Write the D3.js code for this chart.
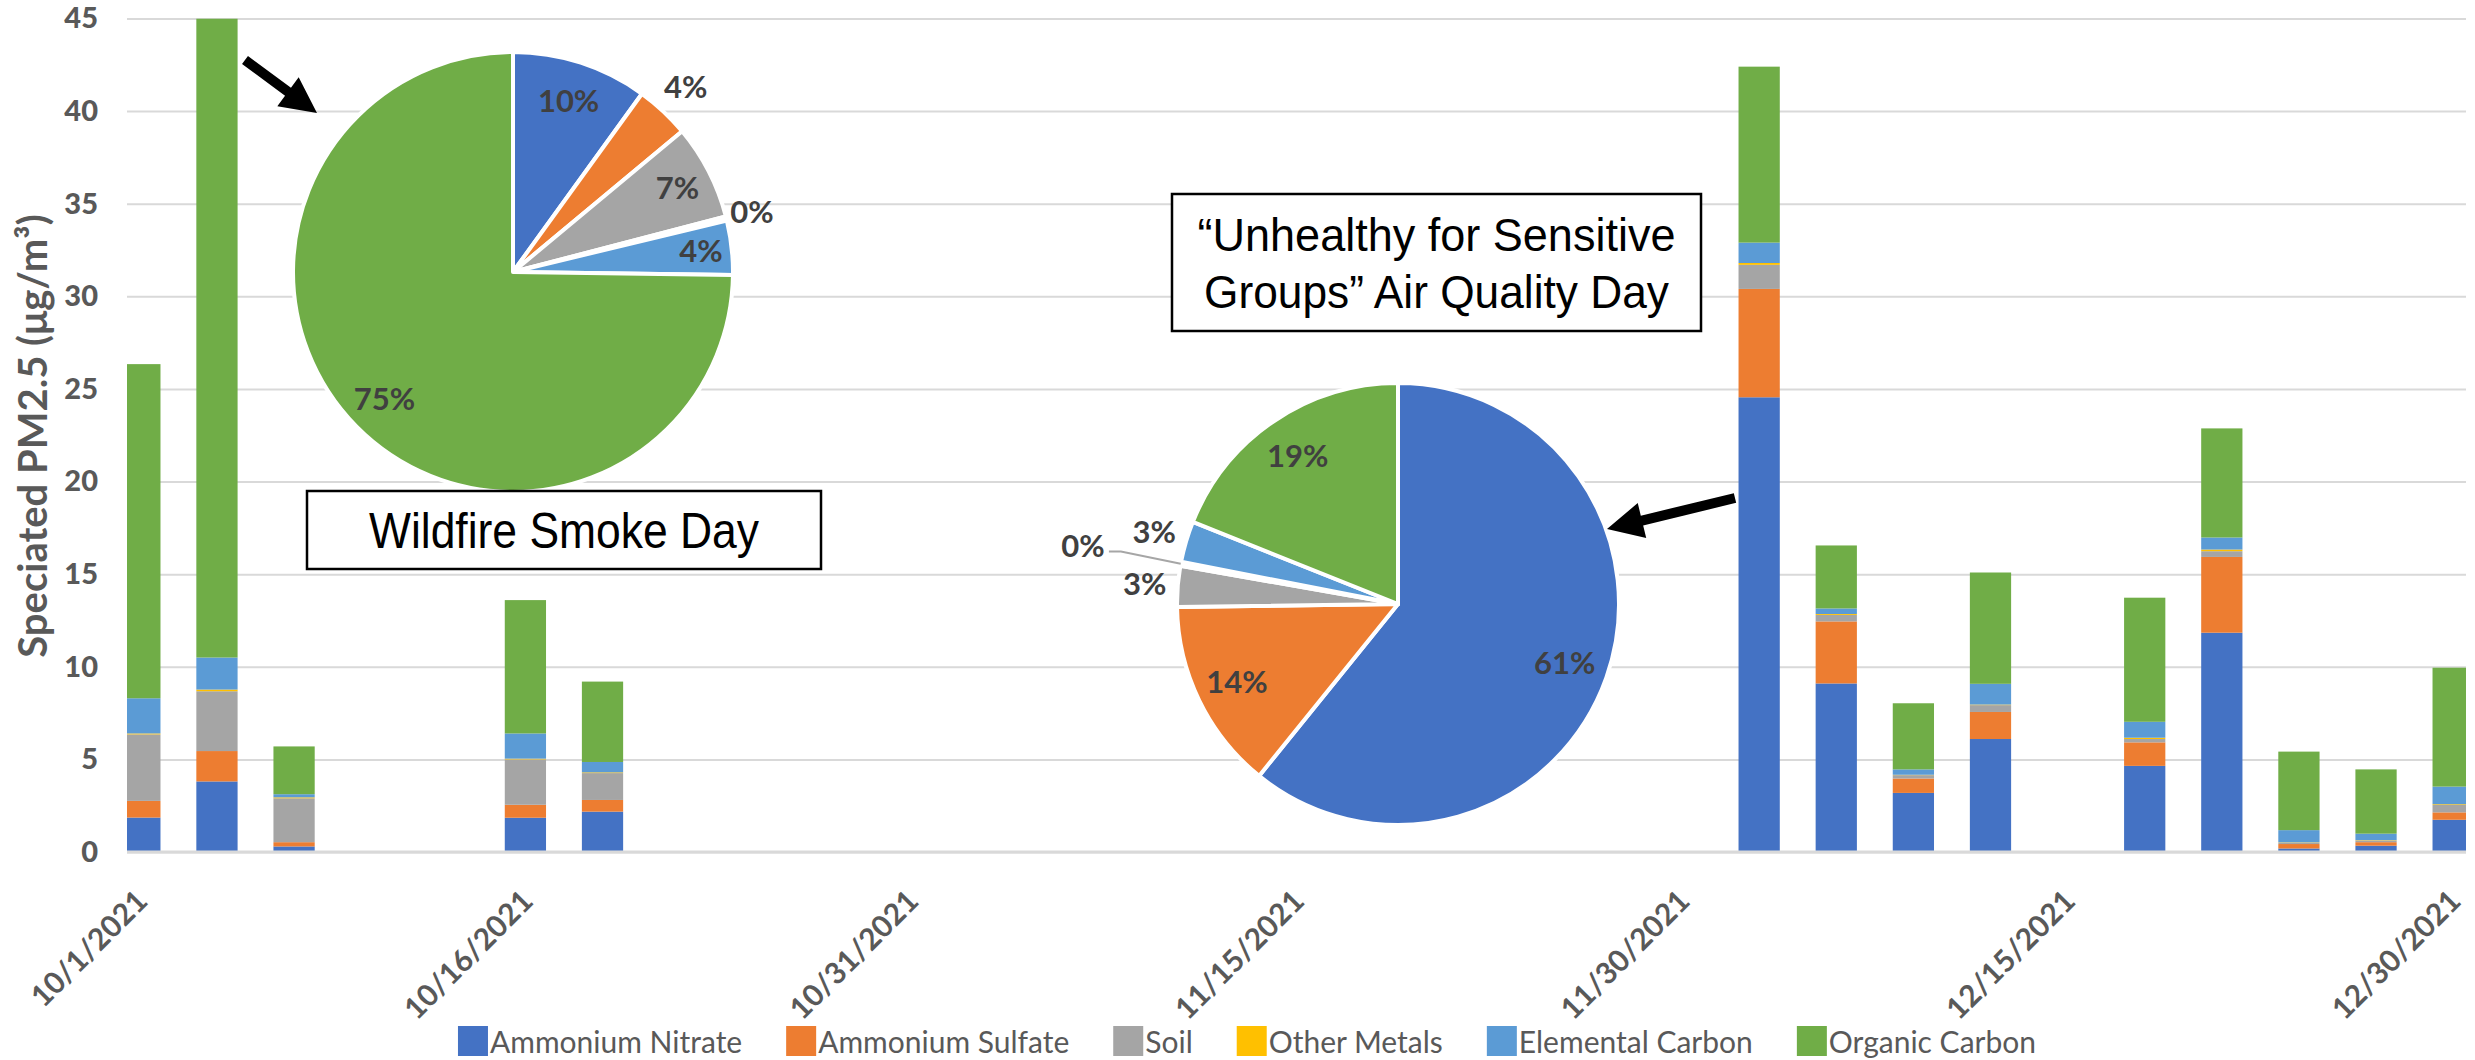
<!DOCTYPE html>
<html>
<head>
<meta charset="utf-8">
<script src="https://cdn.jsdelivr.net/npm/d3@7"></script>
<style>
  body { margin: 0; background: #fff; }
  svg { display: block; }
</style>
</head>
<body>
<svg id="chart" width="2475" height="1060"></svg>
<script>
// sample days (every third day, with gaps)
const dates = ["2021-10-01", "2021-10-04", "2021-10-07", "2021-10-16", "2021-10-19",
    "2021-12-03", "2021-12-06", "2021-12-09", "2021-12-12",
    "2021-12-18", "2021-12-21", "2021-12-24", "2021-12-27", "2021-12-30"];

const series = ["Ammonium Nitrate", "Ammonium Sulfate", "Soil", "Other Metals", "Elemental Carbon", "Organic Carbon"];
const colors = ["#4472c4", "#ed7d31", "#a5a5a5", "#ffc000", "#5b9bd5", "#70ad47"];

const ammoniumNitrate = [1.86, 3.81, 0.30, 1.85, 2.18, 24.55, 9.10, 3.19, 6.10, 4.65, 11.84, 0.19, 0.34, 1.74];
const ammoniumSulfate = [0.90, 1.64, 0.23, 0.70, 0.63, 5.85, 3.35, 0.78, 1.46, 1.27, 4.09, 0.24, 0.19, 0.40];
const soil = [3.59, 3.23, 2.37, 2.45, 1.45, 1.30, 0.35, 0.18, 0.37, 0.18, 0.31, 0.07, 0.09, 0.40];
const otherMetals = [0.05, 0.09, 0.05, 0.04, 0.04, 0.10, 0.05, 0.02, 0.03, 0.07, 0.09, 0.02, 0.02, 0.04];
const elementalCarbon = [1.90, 1.73, 0.17, 1.36, 0.56, 1.10, 0.30, 0.29, 1.12, 0.86, 0.65, 0.66, 0.35, 0.95];
const organicCarbon = [18.04, 34.50, 2.58, 7.20, 4.34, 9.50, 3.40, 3.57, 6.01, 6.70, 5.89, 4.24, 3.47, 6.42];

const yTicks = [0, 5, 10, 15, 20, 25, 30, 35, 40, 45];
const xTickDates = ["2021-10-01", "2021-10-16", "2021-10-31", "2021-11-15", "2021-11-30", "2021-12-15", "2021-12-30"];

// pie shares in percent, same order as series
const smokePie = [10, 4, 7, 0.3, 4, 75];
const usgPie = [61, 14, 3, 0.3, 3, 19];

const values = [ammoniumNitrate, ammoniumSulfate, soil, otherMetals, elementalCarbon, organicCarbon];
const parse = d3.utcParse("%Y-%m-%d");
const fmt = d3.utcFormat("%-m/%-d/%Y");

const rows = dates.map((d, i) => {
    const row = { date: parse(d) };
    series.forEach((s, k) => row[s] = values[k][i]);
    return row;
});

const svg = d3.select("#chart");
const plotLeft = 127, plotRight = 2466, plotTop = 18.5, plotBottom = 852;

const x = d3.scaleUtc()
    .domain([parse("2021-10-01"), parse("2021-12-31")])
    .range([plotLeft, plotRight]);
const dayW = x(parse("2021-10-02")) - x(parse("2021-10-01"));
const barW = dayW * 3 * 0.535;

const y = d3.scaleLinear().domain([0, 45]).range([plotBottom, plotTop]);
const color = d3.scaleOrdinal().domain(series).range(colors);

// gridlines
svg.append("g")
    .attr("transform", `translate(${plotLeft},0)`)
    .call(d3.axisLeft(y).tickValues(yTicks).tickSize(-(plotRight - plotLeft)).tickFormat(""))
    .call(g => g.select(".domain").remove())
    .call(g => g.selectAll("line").attr("stroke", "#d9d9d9").attr("stroke-width", 2));

// y tick labels
svg.append("g")
    .attr("transform", `translate(98,0)`)
    .call(d3.axisLeft(y).tickValues(yTicks).tickSize(0).tickPadding(0))
    .call(g => g.select(".domain").remove())
    .call(g => g.selectAll("text")
        .attr("fill", "#595959")
        .style("font-family", "Lato, 'Open Sans', sans-serif")
        .style("font-weight", "900")
        .style("font-size", "29px"));

svg.append("text")
    .attr("transform", `translate(47,436) rotate(-90)`)
    .attr("text-anchor", "middle")
    .attr("fill", "#595959")
    .style("font-family", "Lato, sans-serif")
    .style("font-weight", "bold")
    .style("font-size", "40px")
    .text("Speciated PM2.5 (μg/m³)");

// stacked bars
svg.append("clipPath").attr("id", "plot")
    .append("rect").attr("x", plotLeft).attr("y", plotTop)
    .attr("width", plotRight - plotLeft).attr("height", plotBottom - plotTop + 4);

const stacked = d3.stack().keys(series)(rows);

svg.append("g")
    .attr("clip-path", "url(#plot)")
    .selectAll("g")
    .data(stacked)
    .join("g")
    .attr("fill", d => color(d.key))
    .selectAll("rect")
    .data(d => d)
    .join("rect")
    .attr("x", d => x(d.data.date) + dayW / 2 - barW / 2)
    .attr("width", barW)
    .attr("y", d => y(d[1]))
    .attr("height", d => y(d[0]) - y(d[1]));

// baseline
svg.append("line")
    .attr("x1", plotLeft).attr("x2", plotRight)
    .attr("y1", y(0)).attr("y2", y(0))
    .attr("stroke", "#d9d9d9").attr("stroke-width", 3);

// x labels
svg.append("g")
    .attr("transform", `translate(0,886)`)
    .call(d3.axisBottom(x)
        .tickValues(xTickDates.map(d => d3.utcHour.offset(parse(d), 12)))
        .tickSize(0)
        .tickFormat(d => fmt(d)))
    .call(g => g.select(".domain").remove())
    .call(g => g.selectAll("text")
        .attr("x", 0).attr("y", 0).attr("dy", null)
        .attr("transform", "translate(-8,0) rotate(-45)")
        .attr("text-anchor", "end")
        .attr("dominant-baseline", "hanging")
        .attr("fill", "#595959")
        .style("font-family", "Lato, sans-serif")
        .style("font-weight", "bold")
        .style("font-size", "30px"));

// legend
const legend = svg.append("g").attr("transform", "translate(0,1026)");
const items = legend.selectAll("g").data(series).join("g");
items.append("rect").attr("width", 30).attr("height", 30).attr("fill", d => color(d));
items.append("text")
    .attr("x", 32).attr("y", 27)
    .attr("fill", "#595959")
    .style("font-family", "Lato, sans-serif")
    .style("font-size", "30px")
    .text(d => d);
let lx = 0;
const offsets = [];
items.each(function () {
    offsets.push(lx);
    lx += 32 + this.querySelector("text").getComputedTextLength() + 44;
});
const legendStart = 1247 - (lx - 44) / 2;
items.attr("transform", (d, i) => `translate(${legendStart + offsets[i]},0)`);

// pies
function drawPie(data, cx, cy, r, labelRadius, leaderIndex) {
    const total = d3.sum(data);
    const arcs = d3.pie().sort(null).value(d => d)(data);
    const g = svg.append("g").attr("transform", `translate(${cx},${cy})`);
    g.selectAll("path")
        .data(arcs)
        .join("path")
        .attr("d", d3.arc().innerRadius(0).outerRadius(r))
        .attr("fill", (d, i) => colors[i])
        .attr("stroke", "#fff")
        .attr("stroke-width", 4)
        .attr("stroke-linejoin", "round");
    g.selectAll("text")
        .data(arcs)
        .join("text")
        .attr("transform", (d, i) => {
            const lr = r * labelRadius[i];
            return `translate(${d3.arc().innerRadius(lr).outerRadius(lr).centroid(d)})`;
        })
        .attr("text-anchor", "middle")
        .attr("dy", "0.36em")
        .attr("fill", "#404040")
        .style("font-family", "Lato, sans-serif")
        .style("font-weight", "bold")
        .style("font-size", "31px")
        .text(d => d3.format(".0%")(d.value / total));
    if (leaderIndex != null) {
        const d = arcs[leaderIndex];
        const p0 = d3.arc().innerRadius(r).outerRadius(r).centroid(d);
        const lr = r * labelRadius[leaderIndex];
        const p1 = d3.arc().innerRadius(lr).outerRadius(lr).centroid(d);
        g.append("path")
            .attr("d", `M${p0[0]},${p0[1]} L${p1[0] + 38},${p1[1] + 6} L${p1[0] + 26},${p1[1] + 6}`)
            .attr("fill", "none")
            .attr("stroke", "#a6a6a6")
            .attr("stroke-width", 2);
    }
}

drawPie(smokePie, 513, 272, 220, [0.82, 1.15, 0.84, 1.12, 0.86, 0.82], null);
drawPie(usgPie, 1398, 604, 221, [0.80, 0.81, 1.15, 1.45, 1.15, 0.81], 3);

// arrows
function arrow(x0, y0, x1, y1) {
    const len = Math.hypot(x1 - x0, y1 - y0);
    const ux = (x1 - x0) / len, uy = (y1 - y0) / len;
    const nx = -uy, ny = ux;
    const sw = 5, hw = 18, hl = 36;
    const bx = x1 - ux * hl, by = y1 - uy * hl;
    const pts = [
        [x0 + nx * sw, y0 + ny * sw], [bx + nx * sw, by + ny * sw], [bx + nx * hw, by + ny * hw],
        [x1, y1],
        [bx - nx * hw, by - ny * hw], [bx - nx * sw, by - ny * sw], [x0 - nx * sw, y0 - ny * sw]
    ];
    svg.append("polygon").attr("points", pts.map(p => p.join(",")).join(" ")).attr("fill", "#000");
}
arrow(245, 60, 317, 113);
arrow(1735, 498, 1607, 529);

// annotation boxes
function box(x0, y0, x1, y1, lines, baselines, widths, size) {
    svg.append("rect")
        .attr("x", x0).attr("y", y0).attr("width", x1 - x0).attr("height", y1 - y0)
        .attr("fill", "#fff").attr("stroke", "#000").attr("stroke-width", 2.5);
    lines.forEach((t, i) => {
        svg.append("text")
            .attr("x", (x0 + x1) / 2).attr("y", baselines[i])
            .attr("text-anchor", "middle")
            .attr("textLength", widths[i])
            .attr("lengthAdjust", "spacingAndGlyphs")
            .style("font-family", "'Liberation Sans', Arial, sans-serif")
            .style("font-size", size + "px")
            .text(t);
    });
}
box(307, 491, 821, 569, ["Wildfire Smoke Day"], [548], [390], 50);
box(1172, 194, 1701, 331, ["\u201cUnhealthy for Sensitive", "Groups\u201d Air Quality Day"], [251, 308], [478, 465], 46);
</script>
</body>
</html>
